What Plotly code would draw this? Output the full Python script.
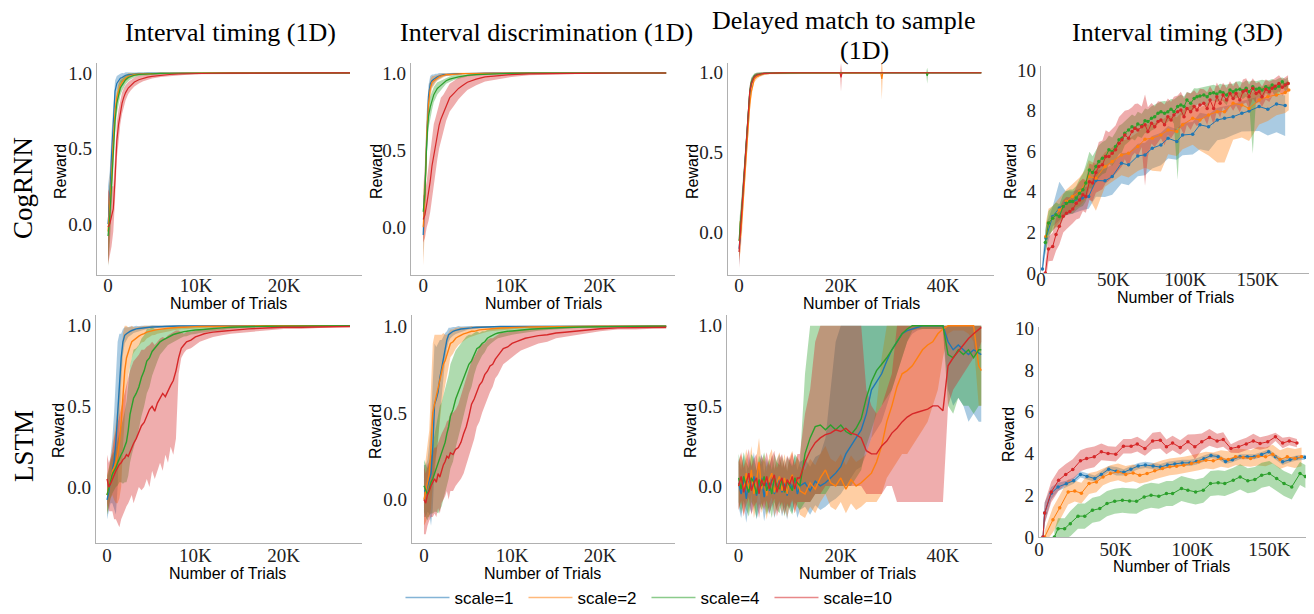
import plotly.graph_objects as go

W, H = 1314, 614
SCALE_NAMES = ["scale=1", "scale=2", "scale=4", "scale=10"]
RGB = ["31,119,180", "255,127,14", "44,160,44", "214,39,40"]
SERIF = "Liberation Serif"
SANS = "Liberation Sans"

# ======================= Row 1: CogRNN =======================
# Panel A: Interval timing (1D); x in thousands of trials
A_x = [0, 0.2, 0.4, 0.6, 0.8, 1.0, 1.2, 1.4, 1.6, 1.8, 2.0,
       2.3, 2.6, 3.0, 3.5, 4.0, 4.5, 5.0,
       6, 7, 8, 9, 10,
       12, 14, 16, 18, 20, 22, 24, 26, 27.5]
A_m1 = [0.0, 0.15, 0.45, 0.72, 0.88, 0.93, 0.95, 0.965, 0.97, 0.978, 0.985,
        0.988, 0.99, 0.993, 0.995, 0.996, 0.997, 0.997,
        0.998, 0.998, 0.999, 0.999, 1.0,
        1, 1, 1, 1, 1, 1, 1, 1, 1]
A_w1 = [0.25, 0.2, 0.15, 0.1, 0.07, 0.05, 0.04, 0.03, 0.03, 0.02, 0.02,
        0.015, 0.012, 0.01, 0.01, 0.008, 0.006, 0.005,
        0.005, 0.004, 0.004, 0.003, 0.003,
        0.003, 0.003, 0.003, 0.003, 0.003, 0.003, 0.003, 0.003, 0.003]
A_m2 = [-0.05, 0.1, 0.3, 0.55, 0.75, 0.84, 0.89, 0.92, 0.94, 0.955, 0.965,
        0.978, 0.985, 0.99, 0.992, 0.994, 0.996, 0.997,
        0.998, 0.998, 0.999, 0.999, 1,
        1, 1, 1, 1, 1, 1, 1, 1, 1]
A_w2 = [0.2, 0.2, 0.15, 0.1, 0.08, 0.06, 0.05, 0.04, 0.03, 0.03, 0.02,
        0.02, 0.015, 0.01, 0.01, 0.008, 0.006, 0.005,
        0.005, 0.004, 0.004, 0.003, 0.003,
        0.003, 0.003, 0.003, 0.003, 0.003, 0.003, 0.003, 0.003, 0.003]
A_m4 = [-0.08, 0.05, 0.25, 0.48, 0.68, 0.8, 0.86, 0.9, 0.92, 0.94, 0.955,
        0.97, 0.978, 0.985, 0.99, 0.992, 0.994, 0.995,
        0.997, 0.998, 0.998, 0.999, 1,
        1, 1, 1, 1, 1, 1, 1, 1, 1]
A_w4 = [0.2, 0.2, 0.15, 0.12, 0.09, 0.07, 0.06, 0.05, 0.04, 0.035, 0.03,
        0.025, 0.02, 0.015, 0.012, 0.01, 0.008, 0.007,
        0.006, 0.005, 0.004, 0.004, 0.003,
        0.003, 0.003, 0.003, 0.003, 0.003, 0.003, 0.003, 0.003, 0.003]
A_m10 = [-0.02, 0.0, 0.05, 0.1, 0.3, 0.55, 0.66, 0.74, 0.8, 0.84, 0.87,
         0.9, 0.92, 0.94, 0.955, 0.965, 0.972, 0.978,
         0.985, 0.99, 0.993, 0.995, 0.997,
         0.998, 0.999, 1, 1, 1, 1, 1, 1, 1]
A_w10 = [0.25, 0.2, 0.2, 0.15, 0.14, 0.12, 0.1, 0.08, 0.07, 0.06, 0.05,
         0.04, 0.035, 0.03, 0.025, 0.02, 0.018, 0.015,
         0.012, 0.01, 0.008, 0.006, 0.005,
         0.004, 0.003, 0.003, 0.003, 0.003, 0.003, 0.003, 0.003, 0.003]

# Panel B: Interval discrimination (1D)
B_x = A_x
B_m1 = [-0.05, 0.25, 0.65, 0.85, 0.93, 0.95, 0.96, 0.97, 0.975, 0.98, 0.985,
        0.99, 0.99, 0.993, 0.995, 0.996, 0.997, 0.998,
        0.998, 0.999, 0.999, 1, 1,
        1, 1, 1, 1, 1, 1, 1, 1, 1]
B_w1 = [0.15, 0.15, 0.1, 0.07, 0.05, 0.04, 0.03, 0.025, 0.02, 0.02, 0.015,
        0.012, 0.01, 0.01, 0.008, 0.006, 0.005, 0.005,
        0.004, 0.004, 0.003, 0.003, 0.003,
        0.003, 0.003, 0.003, 0.003, 0.003, 0.003, 0.003, 0.003, 0.003]
B_m2 = [0.0, 0.2, 0.6, 0.8, 0.9, 0.94, 0.95, 0.96, 0.97, 0.975, 0.98,
        0.985, 0.99, 0.99, 0.993, 0.995, 0.996, 0.997,
        0.998, 0.998, 0.999, 1, 1,
        1, 1, 1, 1, 1, 1, 1, 1, 1]
B_w2 = [0.25, 0.2, 0.12, 0.08, 0.06, 0.04, 0.03, 0.025, 0.02, 0.02, 0.015,
        0.012, 0.01, 0.01, 0.008, 0.006, 0.005, 0.005,
        0.004, 0.004, 0.003, 0.003, 0.003,
        0.003, 0.003, 0.003, 0.003, 0.003, 0.003, 0.003, 0.003, 0.003]
B_m4 = [0.1, 0.22, 0.55, 0.72, 0.78, 0.82, 0.86, 0.88, 0.9, 0.91, 0.92,
        0.935, 0.95, 0.96, 0.97, 0.975, 0.98, 0.985,
        0.99, 0.993, 0.995, 0.997, 0.998,
        0.999, 1, 1, 1, 1, 1, 1, 1, 1]
B_w4 = [0.1, 0.1, 0.1, 0.08, 0.07, 0.06, 0.05, 0.045, 0.04, 0.035, 0.03,
        0.025, 0.02, 0.018, 0.015, 0.012, 0.01, 0.008,
        0.006, 0.005, 0.004, 0.004, 0.003,
        0.003, 0.003, 0.003, 0.003, 0.003, 0.003, 0.003, 0.003, 0.003]
B_m10 = [0.05, 0.08, 0.15, 0.22, 0.3, 0.4, 0.47, 0.53, 0.6, 0.66, 0.7,
         0.74, 0.79, 0.84, 0.87, 0.9, 0.92, 0.94,
         0.96, 0.975, 0.98, 0.985, 0.99,
         0.995, 0.997, 0.998, 0.999, 0.999, 1, 1, 1, 1]
B_w10 = [0.15, 0.15, 0.15, 0.18, 0.2, 0.2, 0.2, 0.18, 0.16, 0.15, 0.14,
         0.12, 0.1, 0.09, 0.08, 0.07, 0.06, 0.05,
         0.04, 0.03, 0.025, 0.02, 0.015,
         0.01, 0.008, 0.006, 0.005, 0.004, 0.003, 0.003, 0.003, 0.003]

# Panel C: Delayed match to sample (1D)
C_x = [0, 0.3, 0.6, 0.9, 1.2, 1.5, 1.8, 2.1, 2.4, 2.7, 3.0,
       3.5, 4, 4.5, 5, 6, 7, 8,
       10, 12, 14, 16, 18,
       19.8, 20, 20.2,
       22, 24, 26,
       27.8, 28, 28.2,
       30, 32, 34, 36.7,
       36.9, 37.1,
       38, 40, 42, 44, 46, 47.5]
C_m1 = [-0.1, 0.0, 0.15, 0.3, 0.45, 0.6, 0.75, 0.87, 0.93, 0.96, 0.975,
        0.985, 0.99, 0.993, 0.995, 0.997, 0.998, 0.998,
        0.998, 0.999, 0.999, 0.999, 0.999,
        0.999, 0.999, 0.999,
        0.999, 0.999, 0.999,
        0.999, 0.999, 0.999,
        0.999, 0.999, 0.999, 0.999,
        0.999, 0.999,
        0.999, 0.999, 0.999, 0.999, 0.999, 0.999]
C_w1 = [0.1, 0.1, 0.08, 0.07, 0.06, 0.05, 0.05, 0.04, 0.03, 0.02, 0.015,
        0.012, 0.01, 0.008, 0.006, 0.005, 0.004, 0.004,
        0.004, 0.004, 0.004, 0.004, 0.004,
        0.004, 0.004, 0.004,
        0.004, 0.004, 0.004,
        0.004, 0.004, 0.004,
        0.004, 0.004, 0.004, 0.004,
        0.004, 0.004,
        0.004, 0.004, 0.004, 0.004, 0.004, 0.004]
C_m2 = [-0.05, -0.02, 0.1, 0.25, 0.4, 0.55, 0.68, 0.8, 0.88, 0.93, 0.96,
        0.975, 0.985, 0.99, 0.993, 0.996, 0.997, 0.998,
        0.998, 0.998, 0.999, 0.999, 0.999,
        0.999, 0.999, 0.999,
        0.999, 0.999, 0.999,
        0.999, 0.96, 0.999,
        0.999, 0.999, 0.999, 0.999,
        0.999, 0.999,
        0.999, 0.999, 0.999, 0.999, 0.999, 0.999]
C_w2 = [0.12, 0.1, 0.1, 0.08, 0.07, 0.06, 0.06, 0.05, 0.04, 0.03, 0.02,
        0.015, 0.012, 0.01, 0.008, 0.006, 0.005, 0.005,
        0.005, 0.005, 0.005, 0.005, 0.005,
        0.005, 0.005, 0.005,
        0.005, 0.005, 0.005,
        0.005, 0.13, 0.005,
        0.005, 0.005, 0.005, 0.005,
        0.005, 0.005,
        0.005, 0.005, 0.005, 0.005, 0.005, 0.005]
C_m4 = [-0.05, 0.05, 0.18, 0.32, 0.47, 0.62, 0.77, 0.88, 0.94, 0.965, 0.98,
        0.988, 0.992, 0.995, 0.996, 0.997, 0.998, 0.998,
        0.999, 0.999, 0.999, 0.999, 0.999,
        0.999, 0.999, 0.999,
        0.999, 0.999, 0.999,
        0.999, 0.999, 0.999,
        0.999, 0.999, 0.999, 0.999,
        0.98, 0.999,
        0.999, 0.999, 0.999, 0.999, 0.999, 0.999]
C_w4 = [0.1, 0.1, 0.08, 0.07, 0.06, 0.05, 0.05, 0.04, 0.03, 0.02, 0.015,
        0.012, 0.01, 0.008, 0.006, 0.005, 0.004, 0.004,
        0.004, 0.004, 0.004, 0.004, 0.004,
        0.004, 0.004, 0.004,
        0.004, 0.004, 0.004,
        0.004, 0.004, 0.004,
        0.004, 0.004, 0.004, 0.004,
        0.05, 0.004,
        0.004, 0.004, 0.004, 0.004, 0.004, 0.004]
C_m10 = [-0.12, 0.02, 0.2, 0.35, 0.5, 0.64, 0.78, 0.88, 0.93, 0.96, 0.975,
         0.985, 0.99, 0.993, 0.995, 0.997, 0.998, 0.998,
         0.999, 0.999, 0.999, 0.999, 0.999,
         0.999, 0.97, 0.999,
         0.999, 0.999, 0.999,
         0.999, 0.999, 0.999,
         0.999, 0.999, 0.999, 0.999,
         0.999, 0.999,
         0.999, 0.999, 0.999, 0.999, 0.999, 0.999]
C_w10 = [0.1, 0.1, 0.08, 0.07, 0.06, 0.05, 0.05, 0.04, 0.03, 0.02, 0.015,
         0.012, 0.01, 0.008, 0.006, 0.005, 0.004, 0.004,
         0.004, 0.004, 0.004, 0.004, 0.004,
         0.004, 0.09, 0.004,
         0.004, 0.004, 0.004,
         0.004, 0.004, 0.004,
         0.004, 0.004, 0.004, 0.004,
         0.004, 0.004,
         0.004, 0.004, 0.004, 0.004, 0.004, 0.004]

# Panel D: Interval timing (3D), CogRNN
D_x1 = [1.0, 3.4, 8.1, 12.7, 17, 21.7, 28.5, 33, 38, 44.3, 49.3,
        55.7, 60.6, 67, 72, 77, 83, 88, 94, 98, 105,
        110, 116, 122, 127, 133, 139, 144, 151, 157, 163, 169]
D_m1 = [0.2, 1.72, 2.79, 3.2, 3.44, 3.52, 3.69, 3.77, 4.56, 4.54, 4.75,
        5.41, 5.33, 5.77, 5.82, 6.15, 6.31, 6.64, 6.48, 6.8, 6.84,
        7.3, 7.21, 7.54, 7.62, 7.7, 7.87, 7.98, 8.2, 8.07, 8.33, 8.25]
D_up1 = [0.5, 0.6, 0.5, 1.3, 0.6, 0.5, 0.5, 0.5, 0.5, 0.6, 0.6,
         0.5, 0.6, 0.6, 0.6, 0.6, 0.6, 0.6, 0.6, 0.6, 0.6,
         0.6, 0.6, 0.6, 0.6, 0.6, 0.6, 0.6, 0.5, 0.5, 0.5, 0.5]
D_dn1 = [0.2, 0.6, 0.5, 0.6, 0.6, 0.6, 0.6, 0.6, 0.8, 0.8, 0.9,
         1.0, 1.0, 1.0, 1.0, 1.0, 1.0, 1.0, 0.9, 1.0, 1.0,
         1.2, 1.2, 1.0, 1.0, 0.9, 0.9, 1.0, 1.2, 1.3, 1.4, 1.5]
D_x2 = [3.4, 5.2, 8.1, 12.7, 17.6, 21.7, 26.7, 30.8, 33, 38,
        44.3, 49.3, 55.7, 60.6, 67, 72, 77, 83, 88, 94,
        98, 105, 110, 116, 122, 127, 133, 139, 144, 151,
        157, 163, 169, 171.5]
D_m2 = [1.8, 2.46, 2.7, 3.1, 3.52, 3.77, 4.0, 4.43, 4.75, 4.67,
        5.25, 5.49, 5.82, 5.9, 6.23, 6.59, 6.64, 6.8, 7.05, 6.97,
        7.3, 7.62, 7.54, 7.79, 7.95, 7.95, 8.36, 8.28, 8.11, 8.52,
        8.69, 8.77, 8.89, 9.02]
D_up2 = [0.7, 0.7, 0.6, 0.6, 0.6, 0.6, 0.7, 0.7, 0.8, 0.7,
         0.7, 0.7, 0.7, 0.7, 0.7, 0.7, 0.7, 0.7, 0.7, 0.7,
         0.7, 0.7, 0.6, 0.6, 0.6, 0.6, 0.6, 0.6, 0.7, 0.6,
         0.6, 0.5, 0.5, 0.5]
D_dn2 = [0.7, 0.7, 0.6, 0.6, 0.6, 0.6, 0.7, 0.8, 1.0, 1.6,
         1.0, 1.0, 1.0, 1.2, 1.2, 1.4, 1.6, 1.8, 1.2, 1.2,
         1.2, 1.3, 1.5, 2.0, 2.5, 2.5, 1.8, 1.6, 1.6, 1.2,
         1.2, 1.0, 1.0, 1.0]
D_x4 = [3.0, 5.2, 8.1, 10.4, 12.7, 15.4, 17.6, 20, 22, 24.4,
        26.7, 29, 31, 33.5, 35.7, 38, 40, 42.5, 44.8, 47,
        49.3, 51.6, 54, 56, 58, 60.6, 63, 65, 67, 69.7,
        72, 74, 76.5, 78.7, 81, 83, 85.5, 87.8, 90, 92,
        94.6, 96.8, 99, 101, 103.6, 106, 108, 110, 112.7, 115,
        117, 119.5, 121.7, 124, 126, 128.5, 130.8, 133, 135, 137.6,
        139.8, 142, 144, 146.6, 148.9, 151, 153, 155.6, 158, 160,
        162, 164.7, 167, 169, 171]
D_m4 = [1.5, 2.46, 2.7, 2.87, 2.79, 3.28, 3.44, 3.52, 3.52, 3.69,
        3.93, 4.1, 4.43, 5.08, 4.95, 5.25, 5.49, 5.66, 5.74, 6.07,
        5.98, 6.23, 6.56, 6.64, 6.89, 7.05, 7.21, 7.13, 7.34, 7.25,
        7.5, 7.46, 7.62, 7.7, 7.87, 7.95, 7.87, 7.95, 8.07, 7.95,
        8.2, 8.28, 8.2, 8.52, 8.36, 8.6, 8.69, 8.72, 8.77, 8.69,
        8.85, 8.88, 8.82, 8.93, 8.88, 8.77, 9.02, 8.93, 9.02, 9.05,
        8.98, 9.1, 8.93, 9.18, 9.05, 9.1, 9.02, 9.18, 9.1, 9.26,
        9.1, 9.2, 9.43, 9.26, 9.34]
D_up4 = [0.6, 0.6, 0.6, 0.6, 0.6, 0.6, 0.6, 0.6, 0.6, 0.6,
         0.7, 0.8, 0.9, 0.9, 0.8, 0.8, 0.8, 0.8, 0.8, 0.7,
         0.7, 0.7, 0.7, 0.7, 0.6, 0.6, 0.6, 0.6, 0.6, 0.6,
         0.6, 0.6, 0.6, 0.6, 0.5, 0.5, 0.6, 0.5, 0.5, 0.6,
         0.5, 0.5, 0.5, 0.4, 0.5, 0.5, 0.4, 0.4, 0.4, 0.5,
         0.4, 0.4, 0.4, 0.4, 0.4, 0.5, 0.3, 0.4, 0.4, 0.4,
         0.4, 0.4, 0.5, 0.3, 0.4, 0.4, 0.5, 0.3, 0.4, 0.3,
         0.4, 0.4, 0.2, 0.3, 0.3]
D_dn4 = [0.6, 0.6, 0.6, 0.6, 0.6, 0.6, 0.6, 0.6, 0.6, 0.6,
         0.7, 0.8, 0.9, 0.9, 0.8, 0.8, 0.8, 0.8, 0.8, 0.7,
         0.7, 0.7, 0.7, 0.7, 0.6, 0.6, 0.6, 0.6, 0.6, 0.6,
         0.6, 0.6, 0.6, 0.6, 0.5, 0.5, 0.6, 0.5, 0.5, 0.6,
         3.6, 0.5, 0.5, 0.4, 0.5, 0.5, 0.4, 0.4, 0.4, 0.5,
         0.4, 0.4, 0.4, 0.4, 0.4, 0.5, 0.3, 0.4, 0.4, 0.4,
         0.4, 0.4, 0.5, 3.3, 0.4, 0.4, 0.5, 0.3, 0.4, 0.3,
         0.4, 0.4, 0.2, 0.3, 0.3]
D_x10 = D_x4
D_m10 = [0.0, 1.18, 1.3, 1.9, 2.3, 2.8, 2.95, 3.03, 3.15, 3.44,
         3.6, 3.85, 3.77, 4.5, 4.43, 4.95, 5.25, 5.33, 5.74, 5.74,
         5.9, 6.07, 6.39, 6.56, 6.8, 6.64, 6.97, 7.13, 7.05, 7.21,
         7.3, 6.97, 7.38, 7.21, 7.46, 7.54, 7.3, 7.7, 7.54, 7.79,
         7.95, 8.03, 7.7, 8.11, 7.95, 8.2, 8.03, 8.28, 8.36, 8.11,
         8.52, 8.11, 8.69, 8.36, 8.77, 8.52, 8.85, 8.6, 8.85, 8.52,
         8.93, 9.0, 8.69, 9.1, 8.85, 8.93, 8.69, 9.05, 8.93, 9.1,
         9.2, 9.34, 9.15, 9.26, 9.34]
D_up10 = [0.5, 0.6, 0.7, 0.8, 0.9, 0.8, 0.8, 0.7, 0.7, 0.8,
          0.9, 0.8, 0.8, 0.9, 0.9, 1.0, 1.2, 1.2, 1.3, 1.2,
          1.2, 1.2, 1.3, 1.3, 1.2, 1.4, 1.2, 1.2, 1.3, 1.0,
          1.5, 1.2, 1.0, 1.0, 1.0, 0.9, 1.0, 0.9, 0.9, 0.9,
          0.8, 0.9, 0.9, 0.8, 0.9, 0.8, 0.8, 0.8, 0.7, 0.8,
          0.7, 0.8, 0.7, 0.7, 0.6, 0.6, 0.6, 0.6, 0.6, 0.6,
          0.6, 0.6, 0.6, 0.5, 0.5, 0.5, 0.5, 0.5, 0.5, 0.4,
          0.4, 0.4, 0.4, 0.4, 0.4]
D_dn10 = [0.5, 0.6, 0.7, 0.8, 0.9, 0.8, 0.8, 0.7, 0.7, 0.8,
          0.9, 0.8, 0.8, 0.9, 0.9, 1.0, 1.2, 1.2, 1.3, 1.2,
          1.2, 1.2, 1.3, 1.3, 1.2, 1.4, 1.2, 1.2, 1.3, 1.0,
          3.0, 1.2, 1.0, 1.0, 1.0, 0.9, 1.0, 0.9, 0.9, 0.9,
          0.8, 0.9, 0.9, 0.8, 0.9, 0.8, 0.8, 0.8, 0.7, 0.8,
          0.7, 0.8, 0.7, 0.7, 0.6, 0.6, 0.6, 0.6, 0.6, 0.6,
          0.6, 0.6, 0.6, 0.5, 0.5, 0.5, 0.5, 0.5, 0.5, 0.4,
          0.4, 0.4, 0.4, 0.4, 0.4]

# ======================= Row 2: LSTM =======================
EF_x = [0, 0.2, 0.4, 0.6, 0.8, 1.0, 1.2, 1.4, 1.6, 1.8, 2.0, 2.2, 2.4, 2.6, 2.8, 3.0,
        3.3, 3.6, 3.9, 4.2, 4.5, 4.8, 5.1, 5.4, 5.7, 6.0, 6.3, 6.6, 6.9, 7.2, 7.5, 7.8, 8.1, 8.4, 8.7, 9.0,
        9.5, 10, 10.5, 11, 11.5, 12,
        13, 14, 15, 16,
        18, 20, 22, 24, 26,
        27.5]

# Panel E: Interval timing (1D), LSTM
E_m1 = [-0.08, -0.03, 0.05, 0.1, 0.16, 0.28, 0.45, 0.65, 0.8, 0.9, 0.94, 0.95, 0.96, 0.965, 0.97, 0.975,
        0.98, 0.982, 0.985, 0.987, 0.99, 0.99, 0.992, 0.993, 0.994, 0.995, 0.995, 0.996, 0.996, 0.997, 0.997, 0.997, 0.998, 0.998, 0.998, 0.998,
        0.999, 0.999, 1, 1, 1, 1,
        1, 1, 1, 1,
        1, 1, 1, 1, 1,
        1]
E_w1 = [0.12, 0.12, 0.15, 0.2, 0.3, 0.45, 0.45, 0.3, 0.15, 0.08, 0.05, 0.04, 0.03, 0.03, 0.025, 0.02,
        0.02, 0.015, 0.015, 0.012, 0.01, 0.01, 0.01, 0.008, 0.008, 0.007, 0.006, 0.006, 0.005, 0.005, 0.005, 0.005, 0.004, 0.004, 0.004, 0.004,
        0.003, 0.003, 0.003, 0.003, 0.003, 0.003,
        0.003, 0.003, 0.003, 0.003,
        0.003, 0.003, 0.003, 0.003, 0.003,
        0.003]
E_m2 = [-0.05, 0.0, 0.05, 0.1, 0.12, 0.15, 0.2, 0.28, 0.4, 0.6, 0.72, 0.8, 0.84, 0.87, 0.9, 0.91,
        0.92, 0.935, 0.945, 0.95, 0.96, 0.965, 0.97, 0.972, 0.975, 0.978, 0.98, 0.982, 0.984, 0.985, 0.987, 0.988, 0.99, 0.99, 0.99, 0.992,
        0.993, 0.994, 0.995, 0.995, 0.996, 0.996,
        0.997, 0.998, 0.998, 0.999,
        0.999, 1, 1, 1, 1,
        1]
E_w2 = [0.12, 0.12, 0.12, 0.15, 0.2, 0.25, 0.3, 0.35, 0.4, 0.35, 0.28, 0.2, 0.15, 0.12, 0.1, 0.08,
        0.07, 0.06, 0.05, 0.05, 0.04, 0.035, 0.03, 0.03, 0.025, 0.025, 0.02, 0.02, 0.02, 0.018, 0.016, 0.015, 0.014, 0.013, 0.012, 0.01,
        0.01, 0.01, 0.009, 0.008, 0.008, 0.007,
        0.006, 0.005, 0.005, 0.004,
        0.004, 0.003, 0.003, 0.003, 0.003,
        0.003]
E_m4 = [-0.05, 0.0, 0.05, 0.08, 0.1, 0.12, 0.15, 0.18, 0.2, 0.22, 0.25, 0.28, 0.35, 0.45, 0.5, 0.55,
        0.58, 0.62, 0.68, 0.72, 0.78, 0.8, 0.84, 0.86, 0.88, 0.9, 0.91, 0.92, 0.93, 0.94, 0.945, 0.95, 0.955, 0.96, 0.963, 0.965,
        0.97, 0.973, 0.975, 0.978, 0.98, 0.982,
        0.986, 0.99, 0.992, 0.994,
        0.996, 0.997, 0.998, 0.999, 0.999,
        0.999]
E_w4 = [0.12, 0.12, 0.12, 0.12, 0.12, 0.12, 0.14, 0.15, 0.17, 0.2, 0.22, 0.25, 0.28, 0.3, 0.3, 0.3,
        0.28, 0.26, 0.24, 0.22, 0.2, 0.18, 0.15, 0.12, 0.1, 0.08, 0.07, 0.06, 0.05, 0.05, 0.045, 0.04, 0.04, 0.035, 0.03, 0.03,
        0.025, 0.025, 0.02, 0.02, 0.018, 0.015,
        0.012, 0.01, 0.008, 0.006,
        0.005, 0.004, 0.004, 0.003, 0.003,
        0.003]
E_m10 = [0.05, 0.0, 0.02, 0.05, 0.08, 0.1, 0.12, 0.14, 0.15, 0.17, 0.18, 0.2, 0.19, 0.22, 0.25, 0.27,
         0.3, 0.34, 0.38, 0.4, 0.44, 0.48, 0.5, 0.47, 0.52, 0.55, 0.58, 0.56, 0.6, 0.63, 0.66, 0.72, 0.8, 0.86, 0.88, 0.9,
         0.91, 0.93, 0.94, 0.95, 0.955, 0.96,
         0.965, 0.97, 0.975, 0.98,
         0.985, 0.99, 0.99, 0.993, 0.995,
         0.995]
E_lo10 = [-0.1, -0.15, -0.15, -0.15, -0.2, -0.2, -0.22, -0.25, -0.2, -0.18, -0.15, -0.12, -0.1, -0.08, -0.05, -0.1,
          -0.05, 0.0, -0.02, 0.0, 0.05, 0.0, 0.1, 0.05, 0.1, 0.15, 0.1, 0.2, 0.15, 0.25, 0.2, 0.3, 0.7, 0.8, 0.83, 0.85,
          0.86, 0.88, 0.9, 0.91, 0.92, 0.93,
          0.94, 0.95, 0.955, 0.96,
          0.97, 0.98, 0.98, 0.985, 0.99,
          0.99]
E_hi10 = [0.2, 0.15, 0.18, 0.22, 0.3, 0.35, 0.4, 0.45, 0.5, 0.55, 0.6, 0.65, 0.68, 0.72, 0.75, 0.78,
          0.8, 0.82, 0.85, 0.85, 0.87, 0.88, 0.9, 0.88, 0.9, 0.92, 0.93, 0.92, 0.94, 0.95, 0.96, 0.97, 0.97, 0.96, 0.95, 0.96,
          0.96, 0.97, 0.975, 0.98, 0.985, 0.99,
          0.99, 0.99, 0.993, 0.995,
          0.997, 0.998, 0.998, 0.999, 1.0,
          1.0]

# Panel F: Interval discrimination (1D), LSTM
F_m1 = [0.05, 0.05, 0.08, 0.12, 0.15, 0.3, 0.55, 0.58, 0.62, 0.7, 0.76, 0.82, 0.88, 0.92, 0.95, 0.96,
        0.97, 0.975, 0.98, 0.983, 0.985, 0.988, 0.99, 0.99, 0.992, 0.993, 0.994, 0.995, 0.995, 0.996, 0.996, 0.997, 0.997, 0.997, 0.998, 0.998,
        0.998, 0.999, 0.999, 0.999, 1, 1,
        1, 1, 1, 1,
        1, 1, 1, 1, 1,
        1]
F_w1 = [0.15, 0.15, 0.15, 0.2, 0.3, 0.35, 0.35, 0.3, 0.28, 0.22, 0.16, 0.12, 0.08, 0.05, 0.04, 0.03,
        0.025, 0.02, 0.02, 0.015, 0.015, 0.012, 0.01, 0.01, 0.008, 0.008, 0.007, 0.006, 0.006, 0.005, 0.005, 0.004, 0.004, 0.004, 0.004, 0.004,
        0.003, 0.003, 0.003, 0.003, 0.003, 0.003,
        0.003, 0.003, 0.003, 0.003,
        0.003, 0.003, 0.003, 0.003, 0.003,
        0.003]
F_m2 = [0.0, 0.05, 0.1, 0.15, 0.3, 0.5, 0.55, 0.6, 0.65, 0.7, 0.75, 0.78, 0.8, 0.83, 0.86, 0.9,
        0.91, 0.93, 0.94, 0.95, 0.955, 0.96, 0.965, 0.97, 0.97, 0.975, 0.978, 0.98, 0.982, 0.984, 0.985, 0.986, 0.987, 0.988, 0.989, 0.99,
        0.99, 0.991, 0.992, 0.993, 0.994, 0.995,
        0.996, 0.997, 0.998, 0.998,
        0.999, 0.999, 1, 1, 1,
        1]
F_w2 = [0.15, 0.18, 0.2, 0.25, 0.35, 0.4, 0.4, 0.35, 0.3, 0.25, 0.2, 0.18, 0.15, 0.12, 0.1, 0.08,
        0.07, 0.06, 0.05, 0.045, 0.04, 0.035, 0.03, 0.03, 0.025, 0.025, 0.02, 0.02, 0.018, 0.016, 0.015, 0.014, 0.013, 0.012, 0.011, 0.01,
        0.01, 0.009, 0.008, 0.008, 0.007, 0.006,
        0.005, 0.005, 0.004, 0.004,
        0.003, 0.003, 0.003, 0.003, 0.003,
        0.003]
F_m4 = [0.08, 0.05, 0.03, 0.06, 0.1, 0.12, 0.15, 0.18, 0.2, 0.24, 0.26, 0.3, 0.33, 0.38, 0.42, 0.48,
        0.52, 0.58, 0.62, 0.66, 0.7, 0.74, 0.78, 0.8, 0.84, 0.87, 0.88, 0.9, 0.91, 0.93, 0.94, 0.95, 0.955, 0.96, 0.963, 0.967,
        0.97, 0.972, 0.975, 0.977, 0.98, 0.982,
        0.985, 0.988, 0.99, 0.992,
        0.995, 0.997, 0.998, 0.999, 0.999,
        0.999]
F_w4 = [0.15, 0.15, 0.15, 0.15, 0.18, 0.2, 0.22, 0.25, 0.28, 0.3, 0.3, 0.3, 0.3, 0.3, 0.3, 0.3,
        0.3, 0.28, 0.26, 0.24, 0.22, 0.2, 0.17, 0.15, 0.12, 0.1, 0.08, 0.07, 0.06, 0.05, 0.045, 0.04, 0.035, 0.03, 0.03, 0.028,
        0.025, 0.022, 0.02, 0.018, 0.016, 0.015,
        0.012, 0.01, 0.008, 0.006,
        0.005, 0.004, 0.003, 0.003, 0.003,
        0.003]
F_m10 = [0.0, -0.02, 0.03, 0.05, 0.08, 0.1, 0.12, 0.1, 0.15, 0.13, 0.17, 0.2, 0.22, 0.25, 0.24, 0.27,
         0.26, 0.29, 0.3, 0.33, 0.38, 0.42, 0.48, 0.55, 0.58, 0.62, 0.66, 0.68, 0.72, 0.74, 0.77, 0.78, 0.81, 0.83, 0.85, 0.87,
         0.88, 0.9, 0.91, 0.92, 0.93, 0.935,
         0.945, 0.95, 0.96, 0.965,
         0.975, 0.985, 0.99, 0.99, 0.993,
         0.993]
F_lo10 = [-0.2, -0.2, -0.15, -0.12, -0.1, -0.1, -0.08, -0.1, -0.05, -0.08, -0.02, 0.0, 0.02, 0.05, 0.0, 0.05,
          0.05, 0.08, 0.1, 0.12, 0.15, 0.2, 0.25, 0.3, 0.35, 0.42, 0.45, 0.5, 0.55, 0.58, 0.62, 0.65, 0.7, 0.72, 0.75, 0.78,
          0.8, 0.82, 0.84, 0.86, 0.87, 0.88,
          0.9, 0.91, 0.93, 0.94,
          0.955, 0.97, 0.98, 0.98, 0.985,
          0.985]
F_hi10 = [0.2, 0.15, 0.2, 0.22, 0.25, 0.28, 0.3, 0.3, 0.33, 0.35, 0.38, 0.4, 0.42, 0.45, 0.46, 0.5,
          0.5, 0.52, 0.55, 0.6, 0.65, 0.7, 0.75, 0.8, 0.82, 0.85, 0.88, 0.9, 0.9, 0.92, 0.93, 0.93, 0.94, 0.95, 0.96, 0.96,
          0.965, 0.97, 0.975, 0.98, 0.98, 0.985,
          0.99, 0.99, 0.99, 0.99,
          0.995, 1.0, 1.0, 1.0, 1.0,
          1.0]

# Panel G: Delayed match to sample (1D), LSTM
G_x = [0, 0.5, 1, 1.5, 2, 2.5, 3, 3.5, 4, 4.5, 5, 5.5, 6, 6.5, 7, 7.5, 8, 8.5, 9, 9.5, 10, 10.5, 11, 11.5, 12,
       13, 14, 15, 16, 17, 18, 19, 20, 21, 22, 23, 24, 25, 26, 27, 28, 29, 30, 31, 32, 33, 34, 35, 36, 37,
       38, 39, 40, 41, 42, 43, 44, 45, 46, 47,
       47.5]
G_m1 = [0.02, -0.05, 0.04, -0.08, 0.03, -0.02, 0.06, -0.06, 0.0, 0.05, -0.07, 0.02, -0.03, 0.04, -0.05,
        0.01, 0.05, -0.04, 0.02, -0.06, 0.03, -0.02, 0.04, -0.05, 0.0,
        0.02, -0.03, 0.03, 0.0, 0.02, 0.05, 0.08, 0.12, 0.2, 0.25, 0.3, 0.35, 0.45, 0.6, 0.65,
        0.7, 0.78, 0.85, 0.9, 0.95, 0.97, 0.98, 0.99, 1.0, 1.0,
        1.0, 1.0, 1.0, 0.9, 0.85, 0.88, 0.85, 0.82, 0.85, 0.83,
        0.82]
G_lo1 = [-0.13, -0.2, -0.11, -0.23, -0.12, -0.17, -0.09, -0.21, -0.15, -0.1, -0.22, -0.13, -0.18, -0.11, -0.2,
         -0.14, -0.1, -0.19, -0.13, -0.21, -0.12, -0.17, -0.11, -0.2, -0.15,
         -0.13, -0.18, -0.12, -0.15, -0.13, -0.1, -0.08, -0.05, 0.0, 0.05, 0.1, 0.12, 0.2, 0.3, 0.35,
         0.4, 0.5, 0.6, 0.7, 0.8, 0.9, 0.95, 0.97, 0.98, 0.98,
         0.98, 0.98, 0.98, 0.6, 0.5, 0.55, 0.5, 0.4, 0.45, 0.4,
         0.4]
G_hi1 = [0.17, 0.1, 0.19, 0.07, 0.18, 0.13, 0.21, 0.09, 0.15, 0.2, 0.08, 0.17, 0.12, 0.19, 0.1,
         0.16, 0.2, 0.11, 0.17, 0.09, 0.18, 0.13, 0.19, 0.1, 0.15,
         0.17, 0.12, 0.18, 0.2, 0.3, 0.6, 0.9, 1.0, 1.0, 1.0, 1.0, 1.0, 1.0, 1.0, 1.0,
         1.0, 1.0, 1.0, 1.0, 1.0, 1.0, 1.0, 1.0, 1.0, 1.0,
         1.0, 1.0, 1.0, 1.0, 1.0, 1.0, 1.0, 1.0, 1.0, 1.0,
         1.0]
G_m2 = [0.0, 0.05, -0.03, 0.08, -0.02, 0.1, -0.05, 0.03, 0.15, -0.02, 0.05, -0.06, 0.04, 0.08, -0.04,
        0.02, 0.06, -0.03, 0.05, -0.05, 0.03, 0.07, -0.02, 0.04, -0.03,
        -0.05, 0.02, -0.02, 0.05, 0.1, 0.02, 0.0, 0.05, -0.02, 0.04, 0.0, 0.02, 0.05, 0.08, 0.15,
        0.25, 0.4, 0.5, 0.62, 0.7, 0.72, 0.75, 0.8, 0.85, 0.88,
        0.9, 0.95, 0.98, 1.0, 1.0, 1.0, 1.0, 1.0, 1.0, 0.75,
        0.72]
G_lo2 = [-0.15, -0.1, -0.18, -0.07, -0.17, -0.05, -0.2, -0.12, 0.0, -0.17, -0.1, -0.21, -0.11, -0.07, -0.19,
         -0.13, -0.09, -0.18, -0.1, -0.2, -0.12, -0.08, -0.17, -0.11, -0.18,
         -0.2, -0.13, -0.17, -0.1, -0.05, -0.13, -0.15, -0.1, -0.17, -0.11, -0.15, -0.13, -0.1, -0.1, -0.1,
         -0.05, 0.05, 0.1, 0.15, 0.2, 0.2, 0.25, 0.3, 0.35, 0.4,
         0.5, 0.6, 0.8, 0.95, 0.97, 0.97, 0.97, 0.95, 0.9, 0.5,
         0.5]
G_hi2 = [0.15, 0.2, 0.12, 0.23, 0.13, 0.25, 0.1, 0.18, 0.3, 0.13, 0.2, 0.09, 0.19, 0.23, 0.11,
         0.17, 0.21, 0.12, 0.2, 0.1, 0.18, 0.22, 0.13, 0.19, 0.12,
         0.1, 0.17, 0.13, 0.2, 0.25, 0.17, 0.15, 0.2, 0.13, 0.19, 0.15, 0.17, 0.2, 0.3, 0.5,
         0.8, 1.0, 1.0, 1.0, 1.0, 1.0, 1.0, 1.0, 1.0, 1.0,
         1.0, 1.0, 1.0, 1.0, 1.0, 1.0, 1.0, 1.0, 1.0, 1.0,
         1.0]
G_m4 = [0.05, -0.02, 0.06, 0.0, -0.04, 0.05, 0.02, -0.05, 0.04, 0.0, 0.06, -0.03, 0.02, -0.05, 0.05,
        0.0, -0.02, 0.04, -0.04, 0.03, 0.0, -0.03, 0.05, 0.02, 0.0,
        0.2, 0.3, 0.37, 0.38, 0.35, 0.38, 0.35, 0.38, 0.34, 0.32, 0.36, 0.42, 0.55, 0.65, 0.72,
        0.76, 0.8, 0.85, 0.9, 0.95, 0.98, 1.0, 1.0, 1.0, 1.0,
        1.0, 1.0, 1.0, 0.82, 0.8, 0.85, 0.82, 0.85, 0.8, 0.85,
        0.85]
G_lo4 = [-0.1, -0.17, -0.09, -0.15, -0.19, -0.1, -0.13, -0.2, -0.11, -0.15, -0.09, -0.18, -0.13, -0.2, -0.1,
         -0.15, -0.17, -0.11, -0.19, -0.12, -0.15, -0.18, -0.1, -0.13, -0.15,
         -0.1, -0.1, -0.05, -0.05, -0.05, 0.0, 0.0, 0.0, 0.0, 0.0, 0.05, 0.1, 0.25, 0.35, 0.45,
         0.5, 0.55, 0.6, 0.7, 0.8, 0.9, 0.97, 0.98, 0.98, 0.98,
         0.98, 0.98, 0.98, 0.5, 0.45, 0.55, 0.5, 0.5, 0.45, 0.5,
         0.5]
G_hi4 = [0.2, 0.13, 0.21, 0.15, 0.11, 0.2, 0.17, 0.1, 0.19, 0.15, 0.21, 0.12, 0.17, 0.1, 0.2,
         0.15, 0.13, 0.19, 0.11, 0.18, 0.15, 0.12, 0.2, 0.17, 0.15,
         0.7, 1.0, 1.0, 1.0, 1.0, 1.0, 1.0, 1.0, 1.0, 1.0, 1.0, 1.0, 1.0, 1.0, 1.0,
         1.0, 1.0, 1.0, 1.0, 1.0, 1.0, 1.0, 1.0, 1.0, 1.0,
         1.0, 1.0, 1.0, 1.0, 1.0, 1.0, 1.0, 1.0, 1.0, 1.0,
         1.0]
G_m10 = [0.0, 0.06, -0.04, 0.03, 0.08, -0.03, 0.02, 0.05, -0.05, 0.04, 0.0, 0.06, -0.02, 0.03, 0.07,
         -0.04, 0.02, 0.05, -0.03, 0.04, 0.01, 0.06, -0.02, 0.05, 0.05,
         0.15, 0.22, 0.27, 0.3, 0.32, 0.33, 0.35, 0.34, 0.36, 0.33, 0.32, 0.3, 0.22, 0.2, 0.2,
         0.25, 0.28, 0.33, 0.36, 0.4, 0.43, 0.45, 0.46, 0.47, 0.48,
         0.5, 0.5, 0.47, 0.75, 0.8, 0.84, 0.88, 0.92, 0.95, 0.98,
         0.99]
G_lo10 = [-0.15, -0.09, -0.19, -0.12, -0.07, -0.18, -0.13, -0.1, -0.2, -0.11, -0.15, -0.09, -0.17, -0.12, -0.08,
          -0.19, -0.13, -0.1, -0.18, -0.11, -0.14, -0.09, -0.17, -0.1, -0.1,
          -0.1, -0.1, -0.05, -0.05, 0.0, 0.0, 0.0, 0.0, 0.0, 0.0, 0.0, 0.0, -0.05, -0.05, -0.05,
          -0.05, 0.0, 0.0, -0.1, -0.1, -0.1, -0.1, -0.1, -0.1, -0.1,
          -0.1, -0.1, -0.1, 0.5, 0.6, 0.65, 0.7, 0.75, 0.8, 0.85,
          0.9]
G_hi10 = [0.15, 0.21, 0.11, 0.18, 0.23, 0.12, 0.17, 0.2, 0.1, 0.19, 0.15, 0.21, 0.13, 0.18, 0.22,
          0.11, 0.17, 0.2, 0.12, 0.19, 0.16, 0.21, 0.13, 0.2, 0.2,
          0.45, 0.6, 0.9, 1.0, 1.0, 1.0, 1.0, 1.0, 1.0, 1.0, 1.0, 1.0, 0.6, 0.5, 0.45,
          0.5, 0.6, 0.7, 1.0, 1.0, 1.0, 1.0, 1.0, 1.0, 1.0,
          1.0, 1.0, 1.0, 1.0, 1.0, 1.0, 1.0, 1.0, 1.0, 1.0,
          1.0]

# Panel H: Interval timing (3D), LSTM
H_x1 = [2.6, 3.7, 8, 12.4, 17.8, 22.6, 27, 31.3, 36.3, 40.6, 45.4,
        50.4, 55.2, 59.8, 64.6, 69.3, 74.3, 79.1, 83.7, 88.5, 93.3,
        98.3, 102.6, 107.4, 112, 116.7, 121.5, 126, 130.9, 135.7, 140.2,
        145, 149.6, 154, 158.7, 163.5, 167.8, 173.3]
H_m1 = [0.0, 1.15, 2.1, 2.4, 2.55, 2.7, 3.0, 2.9, 2.8, 3.0, 3.25,
        3.15, 3.1, 3.25, 3.4, 3.45, 3.4, 3.35, 3.45, 3.5, 3.55,
        3.55, 3.62, 3.75, 3.9, 3.85, 3.62, 3.7, 3.85, 3.85, 3.85,
        3.95, 4.08, 3.85, 3.6, 3.7, 3.78, 3.82]
H_w1 = [0.8, 0.5, 0.3, 0.2, 0.15, 0.15, 0.15, 0.15, 0.15, 0.15, 0.15,
        0.2, 0.15, 0.15, 0.15, 0.15, 0.15, 0.15, 0.15, 0.15, 0.15,
        0.15, 0.15, 0.15, 0.12, 0.12, 0.12, 0.12, 0.12, 0.12, 0.12,
        0.12, 0.12, 0.12, 0.15, 0.12, 0.12, 0.12]
H_x2 = [3.7, 9.1, 13.5, 19, 23.3, 27.6, 32.6, 37.4, 41.7, 46.5,
        51.5, 56.5, 61.3, 65.6, 70.4, 75.4, 80.4, 85.2, 89.6, 94.3,
        99.3, 104.1, 108.7, 113.5, 118.5, 123.3, 128, 133, 137.8, 142.8,
        147.6, 152.2, 157, 161.7, 166.7, 171]
H_m2 = [0.0, 0.83, 1.4, 2.16, 2.2, 2.1, 2.56, 2.64, 2.88, 3.04,
        3.12, 3.0, 3.07, 2.96, 3.04, 3.17, 3.28, 3.36, 3.39, 3.44,
        3.52, 3.6, 3.68, 3.65, 3.76, 3.71, 3.84, 3.81, 3.76, 3.87,
        3.84, 3.97, 3.71, 3.84, 3.76, 3.84]
H_w2 = [0.3, 0.6, 0.6, 0.6, 0.5, 0.5, 0.5, 0.5, 0.4, 0.4,
        0.4, 0.4, 0.4, 0.4, 0.4, 0.4, 0.4, 0.4, 0.4, 0.4,
        0.4, 0.4, 0.4, 0.4, 0.4, 0.4, 0.4, 0.4, 0.4, 0.45,
        0.45, 0.45, 0.45, 0.45, 0.45, 0.45]
H_x4 = [10, 12.4, 16.7, 20.4, 25.4, 29.8, 34.8, 39.6, 44.3, 49.3,
        54.3, 59, 63.5, 68.5, 73, 78, 83, 87, 92.8, 97,
        102, 107, 111.7, 116.7, 121, 126.5, 131, 136, 140.6, 145,
        150, 154.8, 159.6, 164.6, 170, 173.5]
H_m4 = [0.0, 0.4, 0.4, 0.64, 1.0, 1.0, 1.28, 1.36, 1.6, 1.71,
        1.76, 1.73, 1.71, 1.92, 2.0, 1.95, 2.08, 2.08, 2.32, 2.24,
        2.16, 2.24, 2.56, 2.6, 2.56, 2.72, 2.88, 2.69, 2.75, 2.96,
        3.04, 2.8, 2.56, 2.4, 3.04, 2.9]
H_w4 = [0.3, 0.5, 0.5, 0.6, 0.6, 0.6, 0.6, 0.6, 0.6, 0.6,
        0.6, 0.6, 0.6, 0.6, 0.6, 0.6, 0.6, 0.6, 0.6, 0.6,
        0.6, 0.6, 0.6, 0.6, 0.6, 0.6, 0.6, 0.6, 0.6, 0.6,
        0.6, 0.6, 0.6, 0.6, 0.55, 0.55]
H_x10 = [2.6, 3.7, 8, 12.8, 17.4, 22, 27, 31, 36, 40.6, 45,
         50, 55, 60, 64, 69, 74, 79, 83, 87, 92,
         97, 101.5, 106, 111, 116, 120, 125, 130, 135, 139.6,
         144, 149, 154, 158.7, 163, 168]
H_m10 = [0.0, 1.15, 2.16, 2.72, 3.0, 3.23, 3.65, 3.76, 3.84, 4.08, 4.0,
         3.97, 4.35, 4.35, 4.45, 4.24, 4.6, 4.64, 4.32, 4.5, 4.29,
         4.56, 4.32, 4.56, 4.77, 4.6, 4.67, 4.24, 4.32, 4.45, 4.6,
         4.48, 4.56, 4.8, 4.5, 4.6, 4.5]
H_w10 = [0.3, 0.5, 0.5, 0.5, 0.5, 0.5, 0.5, 0.5, 0.5, 0.4, 0.35,
         0.35, 0.35, 0.35, 0.35, 0.35, 0.4, 0.4, 0.35, 0.35, 0.35,
         0.35, 0.6, 0.4, 0.4, 0.35, 0.35, 0.2, 0.3, 0.3, 0.35,
         0.3, 0.3, 0.2, 0.25, 0.2, 0.2]

# ======================= Layout geometry (pixels) =======================
P_XDOM = [(97, 362), (411, 675), (728, 994), (1041, 1309),
          (96, 362), (412, 675), (727, 992), (1039, 1306)]
P_YDOM = [(63, 275), (63, 275), (63, 275), (66, 273),
          (315, 543), (315, 543), (315, 543), (327, 537)]
P_XRANGE = [(-1.25, 28.86), (-1.38, 28.5), (-2.16, 50.0), (0, 185.5),
            (-1.25, 28.86), (-1.36, 28.5), (-2.27, 49.6), (0, 173.9)]
P_YRANGE = [(-0.338, 1.066), (-0.31, 1.065), (-0.264, 1.06), (0, 10.2),
            (-0.347, 1.066), (-0.25, 1.064), (-0.356, 1.067), (0, 10.06)]
P_XSTANDOFF = [-7, -7, -7, -11, -5, -5, -5, -5]
XT_1D = [0, 10, 20]
XT_1D_LBL = ["0", "10K", "20K"]
XT_DMS = [0, 20, 40]
XT_DMS_LBL = ["0", "20K", "40K"]
XT_3D = [0, 50, 100, 150]
XT_3D_LBL = ["0", "50K", "100K", "150K"]
YT_1D = [0, 0.5, 1.0]
YT_1D_LBL = ["0.0", "0.5", "1.0"]
YT_3D = [0, 2, 4, 6, 8, 10]
YT_3D_LBL = ["0", "2", "4", "6", "8", "10"]

fig = go.Figure()
band_traces = []
line_traces = []


def axnames(i):
    return ("x" if i == 1 else f"x{i}"), ("y" if i == 1 else f"y{i}")


def check(name, *lists):
    n = len(lists[0])
    for L in lists:
        if len(L) != n:
            raise ValueError(f"length mismatch in {name}: {[len(q) for q in lists]}")


def add_series(i, x, mean, lo, hi, k, markers=False, lw=1.2):
    xa, ya = axnames(i)
    xs = list(x)
    band_traces.append(go.Scatter(
        x=xs + xs[::-1], y=list(hi) + list(lo)[::-1], fill="toself",
        fillcolor=f"rgba({RGB[k]},0.38)", line=dict(width=0, color="rgba(0,0,0,0)"),
        mode="lines", hoverinfo="skip", showlegend=False, xaxis=xa, yaxis=ya))
    line_traces.append(go.Scatter(
        x=xs, y=list(mean), mode="lines+markers" if markers else "lines",
        line=dict(color=f"rgb({RGB[k]})", width=lw),
        marker=dict(size=3.5, color=f"rgb({RGB[k]})"),
        hoverinfo="skip", showlegend=False, xaxis=xa, yaxis=ya))


def sym(name, i, x, mean, w, k, **kw):
    check(name, x, mean, w)
    add_series(i, x, mean, [m - v for m, v in zip(mean, w)],
               [m + v for m, v in zip(mean, w)], k, **kw)


def asym(name, i, x, mean, dn, up, k, **kw):
    check(name, x, mean, dn, up)
    add_series(i, x, mean, [m - v for m, v in zip(mean, dn)],
               [m + v for m, v in zip(mean, up)], k, **kw)


def lohi(name, i, x, mean, lo, hi, k, **kw):
    check(name, x, mean, lo, hi)
    add_series(i, x, mean, lo, hi, k, **kw)


sym("A1", 1, A_x, A_m1, A_w1, 0)
sym("A2", 1, A_x, A_m2, A_w2, 1)
sym("A4", 1, A_x, A_m4, A_w4, 2)
sym("A10", 1, A_x, A_m10, A_w10, 3)
sym("B1", 2, B_x, B_m1, B_w1, 0)
sym("B2", 2, B_x, B_m2, B_w2, 1)
sym("B4", 2, B_x, B_m4, B_w4, 2)
sym("B10", 2, B_x, B_m10, B_w10, 3)
sym("C1", 3, C_x, C_m1, C_w1, 0)
sym("C2", 3, C_x, C_m2, C_w2, 1)
sym("C4", 3, C_x, C_m4, C_w4, 2)
sym("C10", 3, C_x, C_m10, C_w10, 3)
asym("D1", 4, D_x1, D_m1, D_dn1, D_up1, 0, markers=True, lw=1)
asym("D2", 4, D_x2, D_m2, D_dn2, D_up2, 1, markers=True, lw=1)
asym("D4", 4, D_x4, D_m4, D_dn4, D_up4, 2, markers=True, lw=1)
asym("D10", 4, D_x10, D_m10, D_dn10, D_up10, 3, markers=True, lw=1)
sym("E1", 5, EF_x, E_m1, E_w1, 0, lw=1.4)
sym("E2", 5, EF_x, E_m2, E_w2, 1, lw=1.4)
sym("E4", 5, EF_x, E_m4, E_w4, 2, lw=1.4)
lohi("E10", 5, EF_x, E_m10, E_lo10, E_hi10, 3, lw=1.4)
sym("F1", 6, EF_x, F_m1, F_w1, 0, lw=1.4)
sym("F2", 6, EF_x, F_m2, F_w2, 1, lw=1.4)
sym("F4", 6, EF_x, F_m4, F_w4, 2, lw=1.4)
lohi("F10", 6, EF_x, F_m10, F_lo10, F_hi10, 3, lw=1.4)
lohi("G1", 7, G_x, G_m1, G_lo1, G_hi1, 0, lw=1.4)
lohi("G2", 7, G_x, G_m2, G_lo2, G_hi2, 1, lw=1.4)
lohi("G4", 7, G_x, G_m4, G_lo4, G_hi4, 2, lw=1.4)
lohi("G10", 7, G_x, G_m10, G_lo10, G_hi10, 3, lw=1.4)
sym("H1", 8, H_x1, H_m1, H_w1, 0, markers=True, lw=1)
sym("H2", 8, H_x2, H_m2, H_w2, 1, markers=True, lw=1)
sym("H4", 8, H_x4, H_m4, H_w4, 2, markers=True, lw=1)
sym("H10", 8, H_x10, H_m10, H_w10, 3, markers=True, lw=1)

for t in band_traces:
    fig.add_trace(t)
for t in line_traces:
    fig.add_trace(t)

# legend entries
for k in range(4):
    fig.add_trace(go.Scatter(x=[None], y=[None], mode="lines", name=SCALE_NAMES[k],
                             line=dict(color=f"rgba({RGB[k]},0.55)", width=1.5),
                             xaxis="x", yaxis="y"))

layout = {}
for i in range(1, 9):
    j = i - 1
    xd, yd = P_XDOM[j], P_YDOM[j]
    col = j % 4
    if col == 3:
        xt, xl, yt, yl = XT_3D, XT_3D_LBL, YT_3D, YT_3D_LBL
    elif col == 2:
        xt, xl, yt, yl = XT_DMS, XT_DMS_LBL, YT_1D, YT_1D_LBL
    else:
        xt, xl, yt, yl = XT_1D, XT_1D_LBL, YT_1D, YT_1D_LBL
    common = dict(showline=True, linecolor="#b0b0b0", linewidth=1.3, showgrid=False,
                  zeroline=False, ticks="", automargin=False,
                  tickfont=dict(family=SERIF, size=19, color="#222222"))
    layout["xaxis" if i == 1 else f"xaxis{i}"] = dict(
        domain=[xd[0] / W, xd[1] / W], range=list(P_XRANGE[j]),
        anchor="y" if i == 1 else f"y{i}", tickvals=xt, ticktext=xl,
        ticklabelstandoff=P_XSTANDOFF[j], **common)
    layout["yaxis" if i == 1 else f"yaxis{i}"] = dict(
        domain=[1 - yd[1] / H, 1 - yd[0] / H], range=list(P_YRANGE[j]),
        anchor="x" if i == 1 else f"x{i}", tickvals=yt, ticktext=yl, **common)

ann = []


def text(x, y, s, family, size, angle=0):
    ann.append(dict(x=x / W, y=1 - y / H, xref="paper", yref="paper", text=s,
                    showarrow=False, textangle=angle, xanchor="center", yanchor="middle",
                    font=dict(family=family, size=size, color="#000000")))


TITLES = ["Interval timing (1D)", "Interval discrimination (1D)",
          "Delayed match to sample", "(1D)", "Interval timing (3D)"]
text(230, 32, TITLES[0], SERIF, 26)
text(546, 32, TITLES[1], SERIF, 26)
text(844, 20, TITLES[2], SERIF, 26)
text(864, 50, TITLES[3], SERIF, 26)
text(1177, 32, TITLES[4], SERIF, 26)
ROWS = ["CogRNN", "LSTM"]
text(23, 188, ROWS[0], SERIF, 27, -90)
text(24, 446, ROWS[1], SERIF, 27, -90)
REWARD_POS = [(60, 172), (376, 172), (692, 172), (1010, 172),
              (58, 431), (375, 432), (690, 431), (1008, 435)]
TRIALS_POS = [(228, 303), (543, 303), (861, 303), (1175, 297),
              (227, 573), (542, 573), (857, 573), (1171, 566)]
for (x, y) in REWARD_POS:
    text(x, y, "Reward", SANS, 16, -90)
for (x, y) in TRIALS_POS:
    text(x, y, "Number of Trials", SANS, 16)

layout.update(dict(
    width=W, height=H, margin=dict(l=0, r=0, t=0, b=0, autoexpand=False),
    paper_bgcolor="white", plot_bgcolor="white",
    showlegend=True,
    legend=dict(orientation="h", x=0.492, xanchor="center", y=1 - 598 / H, yanchor="middle",
                itemwidth=44, entrywidth=64, entrywidthmode="pixels",
                font=dict(family=SANS, size=17, color="#000000"), bgcolor="rgba(0,0,0,0)"),
    annotations=ann,
))
fig.update_layout(**layout)
fig.write_html("out.html")
